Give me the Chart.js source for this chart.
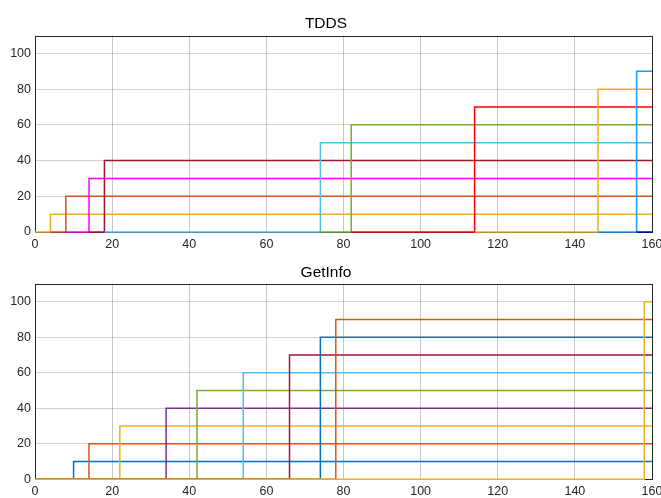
<!DOCTYPE html>
<html>
<head>
<meta charset="utf-8">
<script src="https://cdn.jsdelivr.net/npm/chart.js@4.4.1/dist/chart.umd.min.js"></script>
<style>
  html, body { margin: 0; padding: 0; background: #fff; }
  #wrap { position: relative; width: 661px; height: 498px; }
  .plot { position: absolute; left: 0; width: 661px; }
  #tdds-wrap { top: 0; height: 249px; }
  #getinfo-wrap { top: 249px; height: 249px; }
</style>
</head>
<body>
<div id="wrap">
  <div class="plot" id="tdds-wrap"><canvas id="tdds-chart"></canvas></div>
  <div class="plot" id="getinfo-wrap"><canvas id="getinfo-chart"></canvas></div>
</div>
<script>
// ======= DATA =======
const xTicks = [0, 20, 40, 60, 80, 100, 120, 140, 160];
const yTicks = [0, 20, 40, 60, 80, 100];

// TDDS: each trace sits at 0 from its start time, then steps up to its level
const tddsStarts = [0, 4, 8, 14, 18, 74, 82, 114, 146, 156];
const tddsSteps  = [4, 8, 14, 18, 74, 82, 114, 146, 156, 160];
const tddsLevels = [10, 20, 30, 40, 50, 60, 70, 80, 90, 100];
const tddsColors = ['#EDB120', '#D95319', '#FF00FF', '#A2142F', '#4DBEEE',
                    '#77AC30', '#FF0000', '#EDB120', '#1E9BFF', '#0000CC'];

// GetInfo
const getinfoStarts = [0, 0, 0, 0, 0, 0, 0, 0, 0, 0];
const getinfoSteps  = [10, 14, 22, 34, 42, 54, 66, 74, 78, 158];
const getinfoLevels = [10, 20, 30, 40, 50, 60, 70, 80, 90, 100];
const getinfoColors = ['#0072BD', '#D95319', '#EDB120', '#7E2F8E', '#77AC30',
                       '#4DBEEE', '#A2142F', '#0072BD', '#D95319', '#EDB120'];

const xMax = 160;
const yMax = 110;

// ======= HELPERS =======
function buildDatasets(starts, steps, levels, colors) {
  return levels.map((level, i) => {
    const pts = [{ x: starts[i], y: 0 }];
    if (steps[i] < xMax) {
      pts.push({ x: steps[i], y: level });
      pts.push({ x: xMax, y: level });
    } else {
      pts.push({ x: xMax, y: 0 });
    }
    return {
      data: pts,
      borderColor: colors[i],
      borderWidth: 1.5,
      pointRadius: 0,
      stepped: 'before',
      fill: false,
      clip: 2,
      order: -i
    };
  });
}

// box around the plot area, like a MATLAB axes (drawn under the traces)
const boxPlugin = {
  id: 'axesBox',
  beforeDatasetsDraw(chart) {
    const a = chart.chartArea;
    const ctx = chart.ctx;
    ctx.save();
    ctx.strokeStyle = '#262626';
    ctx.lineWidth = 1;
    ctx.strokeRect(Math.round(a.left) + 0.5, Math.round(a.top) + 0.5,
                   Math.round(a.right - a.left), Math.round(a.bottom - a.top));
    ctx.restore();
  }
};

function makeChart(id, title, datasets, titleBottomPad, xAxisHeight) {
  const ctx = document.getElementById(id).getContext('2d');
  return new Chart(ctx, {
    type: 'line',
    data: { datasets: datasets },
    options: {
      responsive: true,
      maintainAspectRatio: false,
      animation: false,
      layout: { padding: { left: 0, right: 9, top: 0, bottom: 0 } },
      plugins: {
        legend: { display: false },
        tooltip: { enabled: false },
        title: {
          display: true,
          text: title,
          color: '#000',
          font: { family: "'Liberation Sans', Arial, sans-serif", size: 15.5, weight: 'normal' },
          padding: { top: 14, bottom: titleBottomPad }
        }
      },
      scales: {
        x: {
          type: 'linear',
          min: 0,
          max: xMax,
          afterFit: (scale) => {
            scale.height = xAxisHeight;
            scale.paddingLeft = 0;
            scale.paddingRight = 0;
          },
          afterBuildTicks: (scale) => { scale.ticks = xTicks.map(v => ({ value: v })); },
          ticks: {
            color: '#262626',
            padding: 5,
            maxRotation: 0,
            autoSkip: false,
            font: { family: "'Liberation Sans', Arial, sans-serif", size: 12.5 }
          },
          grid: { color: 'rgba(0, 0, 0, 0.22)', drawTicks: false },
          border: { display: false }
        },
        y: {
          min: 0,
          max: yMax,
          afterFit: (scale) => {
            scale.width = 35;
            scale.paddingTop = 0;
            scale.paddingBottom = 0;
          },
          afterBuildTicks: (scale) => { scale.ticks = yTicks.map(v => ({ value: v })); },
          ticks: {
            color: '#262626',
            padding: 4,
            font: { family: "'Liberation Sans', Arial, sans-serif", size: 12.5 }
          },
          grid: { color: 'rgba(0, 0, 0, 0.18)', drawTicks: false },
          border: { display: false }
        }
      }
    },
    plugins: [boxPlugin]
  });
}

// ======= CHARTS =======
makeChart('tdds-chart', 'TDDS',
  buildDatasets(tddsStarts, tddsSteps, tddsLevels, tddsColors), 3, 17);
makeChart('getinfo-chart', 'GetInfo',
  buildDatasets(getinfoStarts, getinfoSteps, getinfoLevels, getinfoColors), 2.3, 18.7);
</script>
</body>
</html>
